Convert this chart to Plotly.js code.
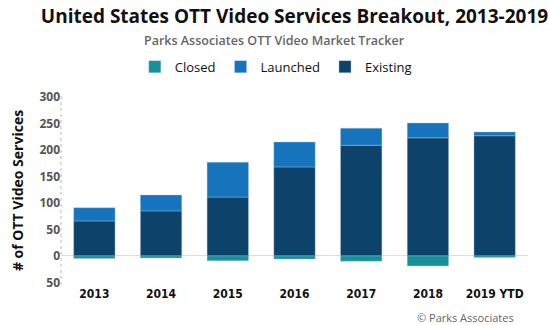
<!DOCTYPE html>
<html><head><meta charset="utf-8">
<script src="https://cdn.plot.ly/plotly-3.0.1.min.js"></script>
<style>body{margin:0;background:#fff}#chart{width:550px;height:325px}</style>
</head><body><div id="chart"></div>
<script>
const years = ["2013","2014","2015","2016","2017","2018","2019 YTD"];
const existing = [66, 85, 111, 168, 209, 223, 227];
const launched = [25, 30, 66, 47, 32, 28, 7];
const closed = [-5, -4, -9, -6, -10, -19, -3];
const yTickVals = [-50, 0, 50, 100, 150, 200, 250, 300];
const yTickText = ["50", "0", "50", "100", "150", "200", "250", "300"];

const edge = {color: "rgba(170,200,225,0.5)", width: 0.8};
const traces = [
  {type: "bar", name: "Existing", x: years, y: existing, marker: {color: "#0d426b", line: edge}, legendrank: 3},
  {type: "bar", name: "Launched", x: years, y: launched, marker: {color: "#1574bc", line: edge}, legendrank: 2},
  {type: "bar", name: "Closed", x: years, y: closed, marker: {color: "#18909a", line: edge}, legendrank: 1}
];

const layout = {
  width: 550, height: 325,
  margin: {l: 61, r: 22, t: 96, b: 40},
  paper_bgcolor: "#fff", plot_bgcolor: "#fff",
  barmode: "relative", bargap: 0.38,
  showlegend: true,
  legend: {orientation: "h", x: 0.46, xanchor: "center", y: 1.155, yanchor: "middle",
           font: {family: "Open Sans, sans-serif", size: 13, color: "#111"}, itemwidth: 30, traceorder: "normal"},
  xaxis: {type: "category", showgrid: false, showline: false, zeroline: false, ticks: "",
          tickfont: {family: "DejaVu Sans Condensed, Liberation Sans Narrow, sans-serif", size: 12, color: "#111", weight: "bold"}},
  yaxis: {range: [-55, 302], tickvals: yTickVals, ticktext: yTickText, showgrid: false, showline: false,
          zeroline: true, zerolinecolor: "#dddddd", zerolinewidth: 1, ticks: "", ticklen: 0,
          tickfont: {family: "Open Sans, sans-serif", size: 12, color: "#555", weight: "bold"},
          title: {text: "# of OTT Video Services", standoff: 12,
                  font: {family: "Open Sans, sans-serif", size: 14, color: "#111", weight: "bold"}}},
  title: {text: "United States OTT Video Services Breakout, 2013-2019", x: 0.5, xanchor: "center", xref: "paper",
          y: 0.95, yanchor: "middle",
          font: {family: "Open Sans, sans-serif", size: 19, color: "#111", weight: "bold"}},
  shapes: [{type: "line", xref: "paper", yref: "paper", x0: 0, x1: 0, y0: 0, y1: 1,
            line: {color: "#bbbbbb", width: 1, dash: "dot"}}],
  annotations: [
    {text: "Parks Associates OTT Video Market Tracker", xref: "paper", yref: "paper", x: 0.458, y: 1.0, yshift: 56,
     xanchor: "center", yanchor: "middle", showarrow: false,
     font: {family: "Open Sans, sans-serif", size: 12.5, color: "#666", weight: 600}},
    {text: "© Parks Associates", xref: "paper", yref: "paper", x: 1, y: 0, yshift: -32, xshift: -12,
     xanchor: "right", yanchor: "middle", showarrow: false,
     font: {family: "Open Sans, sans-serif", size: 11, color: "#666"}}
  ]
};
Plotly.newPlot("chart", traces, layout, {staticPlot: true, displayModeBar: false});
</script></body></html>
